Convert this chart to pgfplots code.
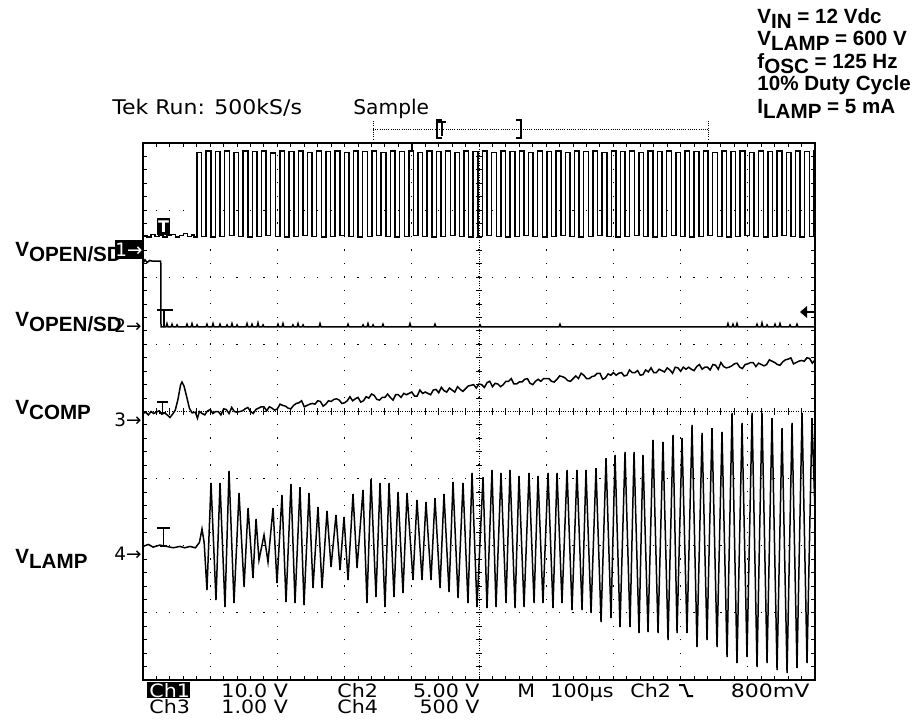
\documentclass[border=0pt]{standalone}
\usepackage{pgfplots}
\pgfplotsset{compat=1.18}
\usepackage{fontspec}
\setmainfont{Liberation Sans}
\newfontfamily\tekfont{DejaVu Sans}
\newcommand\lbl{\fontsize{10.3}{12}\selectfont\bfseries}
\newcommand\tek{\tekfont\fontsize{10.1}{12}\selectfont}
\newcommand\tekb{\tekfont\fontsize{9.2}{11}\selectfont}
\newcommand\sub[1]{\raisebox{-2.5pt}{#1}}
\newcommand\bt[1]{\scalebox{1.12}[1]{#1}}

\begin{document}
\begin{tikzpicture}
\path (0pt,0pt) rectangle (459.5pt,-361.5pt);

\begin{axis}[
    at={(71.5pt,-340pt)}, anchor=south west,
    scale only axis, width=336pt, height=268.5pt,
    xmin=0, xmax=1000, ymin=0, ymax=8,
    clip=false,
    axis line style={line width=0.8pt},
    xtick distance=100, ytick distance=1,
    minor x tick num=4, minor y tick num=4,
    xticklabels={}, yticklabels={},
    tick align=inside,
    major tick length=1.8pt, minor tick length=1.8pt,
    tick style={black, line width=0.5pt},
    grid=major,
    major grid style={black, line width=0.6pt, dash pattern=on 0.6pt off 6.12pt, dash phase=0.3pt},
    no markers,
    cycle list={{black, line width=0.75pt}},
  ]

  % centre lines of the graticule
  \draw[line width=0.5pt, dash pattern=on 0.5pt off 0.7pt] (axis cs:0,4) -- (axis cs:1000,4);
  \draw[line width=0.5pt, dash pattern=on 0.5pt off 0.7pt] (axis cs:500,0) -- (axis cs:500,8);
  \pgfplotsinvokeforeach{0,20,...,1000}{\draw[line width=0.5pt] (axis cs:#1,4) ++(0pt,-1.6pt) -- ++(0pt,3.2pt);}
  \pgfplotsinvokeforeach{0,0.2,...,8}{\draw[line width=0.5pt] (axis cs:500,#1) ++(-1.6pt,0pt) -- ++(3.2pt,0pt);}

  % Ch1: V_OPEN/SD (switch drive)
  \addplot[black, line width=0.75pt, const plot] coordinates {
    (0,6.62)(6,6.60)(12,6.64)(18,6.61)(24,6.63)(30,6.60)(36,6.62)(42,6.64)(48,6.60)(54,6.62)(60,6.65)(66,6.61)(72,6.63)(76,6.60)
    (80.4,7.86)(87.4,6.61)(94.1,7.88)(101.1,6.60)(107.8,7.87)(114.8,6.61)(121.5,7.88)(128.5,6.62)
    (135.2,7.86)(142.2,6.61)(148.9,7.88)(155.9,6.60)(162.6,7.87)(169.6,6.61)(176.3,7.88)(183.3,6.62)
    (190.0,7.85)(197.0,6.61)(203.7,7.88)(210.7,6.60)(217.4,7.87)(224.4,6.61)(231.1,7.88)(238.1,6.62)
    (244.8,7.86)(251.8,6.61)(258.5,7.88)(265.5,6.60)(272.2,7.87)(279.2,6.61)(285.9,7.88)(292.9,6.62)
    (299.6,7.86)(306.6,6.61)(313.3,7.88)(320.3,6.60)(327.0,7.87)(334.0,6.61)(340.7,7.88)(347.7,6.62)
    (354.4,7.86)(361.4,6.61)(368.1,7.88)(375.1,6.60)(381.8,7.87)(388.8,6.61)(395.5,7.88)(402.5,6.62)
    (409.2,7.86)(416.2,6.61)(422.9,7.88)(429.9,6.60)(436.6,7.87)(443.6,6.61)(450.3,7.88)(457.3,6.62)
    (464.0,7.86)(471.0,6.61)(477.7,7.88)(484.7,6.60)(491.4,7.87)(498.4,6.61)(505.1,7.88)(512.1,6.62)
    (518.8,7.86)(525.8,6.61)(532.5,7.88)(539.5,6.60)(546.2,7.87)(553.2,6.61)(559.9,7.88)(566.9,6.62)
    (573.6,7.86)(580.6,6.61)(587.3,7.88)(594.3,6.60)(601.0,7.87)(608.0,6.61)(614.7,7.88)(621.7,6.62)
    (628.4,7.86)(635.4,6.61)(642.1,7.88)(649.1,6.60)(655.8,7.87)(662.8,6.61)(669.5,7.88)(676.5,6.62)
    (683.2,7.86)(690.2,6.61)(696.9,7.88)(703.9,6.60)(710.6,7.87)(717.6,6.61)(724.3,7.88)(731.3,6.62)
    (738.0,7.86)(745.0,6.61)(751.7,7.88)(758.7,6.60)(765.4,7.87)(772.4,6.61)(779.1,7.88)(786.1,6.62)
    (792.8,7.86)(799.8,6.61)(806.5,7.88)(813.5,6.60)(820.2,7.87)(827.2,6.61)(833.9,7.88)(840.9,6.62)
    (847.6,7.86)(854.6,6.61)(861.3,7.88)(868.3,6.60)(875.0,7.87)(882.0,6.61)(888.7,7.88)(895.7,6.62)
    (902.4,7.86)(909.4,6.61)(916.1,7.88)(923.1,6.60)(929.8,7.87)(936.8,6.61)(943.5,7.88)(950.5,6.62)
    (957.2,7.86)(964.2,6.61)(970.9,7.88)(977.9,6.60)(984.6,7.87)(991.6,6.61)(998.3,7.88)(1000,7.88)
  };

  % Ch2: V_OPEN/SD
  \addplot[black, line width=0.75pt] coordinates {
    (0,6.21)(3,6.26)(6,6.22)(10,6.25)(14,6.24)(26.4,6.24)(26.8,5.26)
    (34.2,5.26)(35.7,5.31)(37.2,5.26)(41.7,5.26)(43.2,5.30)(44.7,5.26)(49.1,5.26)(50.6,5.29)(52.1,5.26)
    (64.0,5.26)(65.5,5.30)(67.0,5.26)(71.4,5.26)(72.9,5.31)(74.4,5.26)(78.9,5.26)(80.4,5.29)(81.9,5.26)
    (93.7,5.26)(95.2,5.30)(96.7,5.26)(102.7,5.26)(104.2,5.31)(105.7,5.26)(113.1,5.26)(114.6,5.30)(116.1,5.26)
    (123.5,5.26)(125.0,5.29)(126.5,5.26)(130.9,5.26)(132.4,5.31)(133.9,5.26)(138.4,5.26)(139.9,5.29)(141.4,5.26)
    (153.3,5.26)(154.8,5.31)(156.3,5.26)(160.7,5.26)(162.2,5.30)(163.7,5.26)(169.6,5.26)(171.1,5.32)(172.6,5.26)
    (177.1,5.26)(178.6,5.29)(180.1,5.26)(199.4,5.26)(200.9,5.30)(202.4,5.26)(206.8,5.26)(208.3,5.31)(209.8,5.26)
    (221.7,5.26)(223.2,5.29)(224.7,5.26)(229.2,5.26)(230.7,5.31)(232.2,5.26)(236.6,5.26)(238.1,5.29)(239.6,5.26)
    (261.9,5.26)(263.4,5.31)(264.9,5.26)(303.6,5.26)(305.1,5.30)(306.6,5.26)(325.9,5.26)(327.4,5.29)(328.9,5.26)
    (333.3,5.26)(334.8,5.31)(336.3,5.26)(340.8,5.26)(342.3,5.29)(343.8,5.26)(355.6,5.26)(357.1,5.30)(358.6,5.26)
    (395.8,5.26)(397.3,5.31)(398.8,5.26)(433.0,5.26)(434.5,5.30)(436.0,5.26)(500.0,5.26)(501.5,5.29)(503.0,5.26)
    (619.0,5.26)(620.5,5.30)(622.0,5.26)(869.0,5.26)(870.5,5.31)(872.0,5.26)(876.4,5.26)(877.9,5.30)(879.4,5.26)
    (882.4,5.26)(883.9,5.31)(885.4,5.26)(912.2,5.26)(913.7,5.30)(915.2,5.26)(919.6,5.26)(921.1,5.32)(922.6,5.26)
    (927.1,5.26)(928.6,5.29)(930.1,5.26)(939.0,5.26)(940.5,5.30)(942.0,5.26)(946.4,5.26)(947.9,5.31)(949.4,5.26)
    (961.3,5.26)(962.8,5.29)(964.3,5.26)(971.7,5.26)(973.2,5.30)(974.7,5.26)(1000,5.26)
  };

  % Ch3: V_COMP
  \addplot[black, line width=0.75pt] coordinates {
    (0,3.97)(4,3.99)(8,3.95)(12,4.00)(16,3.97)(20,3.99)(24,4.01)(28,3.96)(32,3.98)(36,3.95)
    (40,3.91)(44,3.96)(48,4.02)(52,4.18)(56,4.40)(58,4.44)(61,4.38)(65,4.22)(69,4.05)(73,3.98)(78,3.99)(81,3.90)
    (84,4.00)(88,3.97)(92,3.95)(96,4.01)(100,4.03)(104,3.97)(108,4.00)(112,4.00)(116,3.95)(120,4.04)
    (124,4.03)(128,3.97)(132,4.06)(136,4.00)(140,3.99)(144,4.00)(148,4.01)(152,4.04)(156,4.06)(160,4.00)
    (164,3.97)(168,4.03)(172,4.05)(176,4.07)(180,4.07)(184,4.01)(188,4.07)(192,4.05)(196,4.02)(200,4.04)
    (204,4.11)(208,4.09)(212,4.08)(216,4.05)(220,4.04)(224,4.09)(228,4.12)(232,4.13)(236,4.16)(240,4.07)
    (244,4.09)(248,4.11)(252,4.12)(256,4.11)(260,4.16)(264,4.15)(268,4.08)(272,4.11)(276,4.16)(280,4.15)
    (284,4.18)(288,4.19)(292,4.17)(296,4.12)(300,4.13)(304,4.16)(308,4.22)(312,4.16)(316,4.19)(320,4.21)
    (324,4.14)(328,4.16)(332,4.22)(336,4.20)(340,4.26)(344,4.24)(348,4.18)(352,4.17)(356,4.21)(360,4.21)
    (364,4.26)(368,4.21)(372,4.17)(376,4.25)(380,4.25)(384,4.21)(388,4.27)(392,4.25)(396,4.27)(400,4.29)
    (404,4.23)(408,4.23)(412,4.32)(416,4.27)(420,4.29)(424,4.27)(428,4.25)(432,4.32)(436,4.33)(440,4.28)
    (444,4.36)(448,4.31)(452,4.29)(456,4.35)(460,4.32)(464,4.29)(468,4.37)(472,4.33)(476,4.30)(480,4.34)
    (484,4.38)(488,4.39)(492,4.40)(496,4.35)(500,4.41)(504,4.40)(508,4.36)(512,4.43)(516,4.45)(520,4.37)
    (524,4.42)(528,4.41)(532,4.37)(536,4.40)(540,4.45)(544,4.45)(548,4.49)(552,4.41)(556,4.41)(560,4.44)
    (564,4.44)(568,4.48)(572,4.49)(576,4.42)(580,4.40)(584,4.45)(588,4.48)(592,4.45)(596,4.49)(600,4.49)
    (604,4.49)(608,4.45)(612,4.44)(616,4.48)(620,4.53)(624,4.52)(628,4.50)(632,4.46)(636,4.45)(640,4.49)
    (644,4.53)(648,4.49)(652,4.57)(656,4.54)(660,4.49)(664,4.49)(668,4.52)(672,4.53)(676,4.57)(680,4.57)
    (684,4.48)(688,4.50)(692,4.56)(696,4.54)(700,4.58)(704,4.54)(708,4.57)(712,4.58)(716,4.53)(720,4.54)
    (724,4.62)(728,4.58)(732,4.58)(736,4.61)(740,4.54)(744,4.55)(748,4.62)(752,4.59)(756,4.65)(760,4.58)
    (764,4.58)(768,4.63)(772,4.61)(776,4.59)(780,4.65)(784,4.62)(788,4.57)(792,4.66)(796,4.65)(800,4.60)
    (804,4.66)(808,4.63)(812,4.66)(816,4.63)(820,4.61)(824,4.67)(828,4.70)(832,4.63)(836,4.66)(840,4.66)
    (844,4.62)(848,4.70)(852,4.69)(856,4.63)(860,4.73)(864,4.67)(868,4.65)(872,4.66)(876,4.68)(880,4.71)
    (884,4.72)(888,4.66)(892,4.64)(896,4.70)(900,4.71)(904,4.73)(908,4.73)(912,4.67)(916,4.72)(920,4.70)
    (924,4.68)(928,4.70)(932,4.77)(936,4.75)(940,4.73)(944,4.70)(948,4.69)(952,4.74)(956,4.77)(960,4.78)
    (964,4.80)(968,4.71)(972,4.73)(976,4.75)(980,4.76)(984,4.75)(988,4.80)(992,4.79)(996,4.72)(1000,4.77)
  };

  % Ch4: V_LAMP
  \addplot[black, line width=0.75pt] coordinates {
    (0,1.99)(8,2.02)(15,1.98)(25,2.01)(35,1.99)(45,1.97)(55,1.99)(62,1.97)(70,1.99)(78,1.97)(84,2.05)
    (87.8,2.25)(91,2.05)(95.2,1.34)
    (101.2,2.935)(108.6,1.192)(114.6,2.935)(122.0,1.088)(128.0,3.114)(135.4,1.147)(142.9,2.786)(150.4,1.386)
    (156.3,2.562)(163.7,1.520)(168.2,2.399)(172.6,1.788)(180.1,2.160)(186.0,1.758)(193.5,2.562)(199.4,1.445)
    (206.8,2.756)(212.8,1.162)(220.2,2.920)(226.2,1.147)(233.6,2.875)(239.6,1.117)(247.0,2.786)(253.0,1.371)
    (260.4,2.577)(266.4,1.371)(273.8,2.518)(279.8,1.683)(287.2,2.458)(293.2,1.639)(299.1,2.428)(305.1,1.490)
    (312.5,2.771)(318.5,1.669)(327.4,2.831)(333.3,1.147)(339.3,2.994)(346.7,1.237)(352.7,2.935)(360.1,1.088)
    (366.1,2.935)(373.5,1.237)(379.5,2.801)(386.9,1.296)(392.9,2.786)(401.8,1.490)(407.7,2.682)(415.2,1.490)
    (421.1,2.652)(428.6,1.490)(434.5,2.711)(442.0,1.371)(447.9,2.771)(455.4,1.311)(461.3,2.950)(468.8,1.222)
    (476.2,2.935)(483.6,1.147)(489.6,3.084)(497.0,1.088)
    (506.0,3.024)(511.9,1.073)(519.3,3.129)(525.3,1.088)(532.7,3.084)(540.2,1.147)(546.1,3.129)(553.6,1.073)
    (559.5,3.039)(567.0,1.088)(574.4,3.084)(581.9,1.147)(587.8,3.039)(595.2,1.147)(602.7,3.084)(610.1,1.073)
    (616.1,3.084)(623.5,1.147)(631.0,3.129)(638.4,1.043)(645.8,3.129)(653.3,1.043)(659.2,3.129)(666.7,0.998)
    (674.1,3.158)(681.6,0.864)(689.0,3.307)(696.4,0.924)(702.4,3.352)(709.8,0.790)(717.3,3.397)(724.7,0.790)
    (730.7,3.397)(738.1,0.700)(744.0,3.352)(751.5,0.715)(758.9,3.576)(766.4,0.700)(773.8,3.546)(781.3,0.596)
    (788.7,3.650)(794.7,0.700)(802.1,3.605)(809.5,0.700)(817.0,3.799)(824.4,0.492)(831.9,3.680)(839.3,0.596)
    (846.7,3.754)(854.2,0.492)(861.6,3.695)(869.1,0.343)(876.5,3.978)(883.9,0.253)(891.4,3.829)(898.8,0.343)
    (906.3,3.978)(913.7,0.194)(921.1,3.978)(928.6,0.253)(936.0,3.903)(943.5,0.149)(950.9,3.754)(958.4,0.104)
    (965.8,3.829)(973.2,0.179)(980.7,3.978)(988.1,0.253)(995.5,3.903)(1000,2.5)
  };
\end{axis}

\begin{scope}[x=0.5pt, y=-0.5pt]
% trigger markers on the traces
\node[fill=black, text=white, inner sep=0pt, minimum width=6.5pt, minimum height=8.5pt,
      font=\tekfont\bfseries\fontsize{8}{8}\selectfont] at (163.5,226.5) {T};
\draw[line width=0.7pt] (157,310) -- (173,310) (164,310) -- (164,327);
\draw[line width=0.7pt] (157,402) -- (168,402) (162.5,402) -- (162.5,413) (159,413) -- (166,413);
\draw[line width=0.7pt] (157,528) -- (170,528) (163.5,528) -- (163.5,546) (160,546) -- (167,546);
\draw[line width=1pt] (412,143) -- (412,150);
\fill (800,312) -- (807,306) -- (807,318) -- cycle;
\draw[line width=1pt] (806,312) -- (815,312);

% record bar above the graticule
\draw[line width=0.5pt, dash pattern=on 0.5pt off 0.6pt] (373,129) -- (708,129);
\draw[line width=0.5pt, dash pattern=on 0.5pt off 0.6pt] (373,121) -- (373,139) (708,121) -- (708,139);
\draw[line width=1pt] (442,120) -- (437,120) -- (437,138) -- (442,138);
\draw[line width=0.8pt] (438,122) -- (446,122) (442,122) -- (442,136);
\draw[line width=1pt] (516,120) -- (521,120) -- (521,138) -- (516,138);

% scope header
\node[anchor=base west, inner sep=0pt] at (112,114) {\tek\scalebox{1.09}[1]{Tek Run: 500kS/s}};
\node[anchor=base west, inner sep=0pt] at (353,114) {\tek Sample};

% signal names
\node[anchor=base west, inner sep=0pt] at (15,256) {\lbl V\sub{OPEN/SD}};
\node[anchor=base west, inner sep=0pt] at (15,326) {\lbl V\sub{OPEN/SD}};
\node[anchor=base west, inner sep=0pt] at (15,414) {\lbl V\sub{COMP}};
\node[anchor=base west, inner sep=0pt] at (15,563) {\lbl V\sub{LAMP}};

% channel reference markers
\fill (115,240) rectangle (143,259);
\node[anchor=center, inner sep=0pt, text=white] at (129,249.5) {\tekb 1→};
\node[anchor=east, inner sep=0pt] at (142,326) {\tekb 2→};
\node[anchor=east, inner sep=0pt] at (142,420) {\tekb 3→};
\node[anchor=east, inner sep=0pt] at (142,554) {\tekb 4→};

% test conditions
\node[anchor=base west, inner sep=0pt] at (757,23) {\lbl V\sub{IN} = 12 Vdc};
\node[anchor=base west, inner sep=0pt] at (757,45.5) {\lbl V\sub{LAMP} = 600 V};
\node[anchor=base west, inner sep=0pt] at (757,68) {\lbl f\sub{OSC} = 125 Hz};
\node[anchor=base west, inner sep=0pt] at (757,90.5) {\lbl 10\% Duty Cycle};
\node[anchor=base west, inner sep=0pt] at (757,113) {\lbl I\sub{LAMP} = 5 mA};

% scope status lines
\fill (147,681.5) rectangle (190,698);
\node[anchor=base west, inner sep=0pt, text=white] at (149,697) {\tekb\bt{Ch1}};
\node[anchor=base west, inner sep=0pt] at (221,697) {\tekb\bt{10.0 V}};
\node[anchor=base west, inner sep=0pt] at (337,697) {\tekb\bt{Ch2}};
\node[anchor=base east, inner sep=0pt] at (480,697) {\tekb\bt{5.00 V}};
\node[anchor=base west, inner sep=0pt] at (517,697) {\tekb\bt{M}};
\node[anchor=base west, inner sep=0pt] at (550,697) {\tekb\bt{100µs}};
\node[anchor=base west, inner sep=0pt] at (630,697) {\tekb\bt{Ch2}};
\draw[line width=1pt] (679,685) -- (684,685) -- (688,696) -- (693,696);
\node[anchor=base east, inner sep=0pt] at (810,697) {\tekb\scalebox{1.2}[1]{800mV}};
\node[anchor=base west, inner sep=0pt] at (149,713) {\tekb\bt{Ch3}};
\node[anchor=base west, inner sep=0pt] at (221,713) {\tekb\bt{1.00 V}};
\node[anchor=base west, inner sep=0pt] at (337,713) {\tekb\bt{Ch4}};
\node[anchor=base east, inner sep=0pt] at (480,713) {\tekb\bt{500 V}};
\end{scope}
\end{tikzpicture}
\end{document}
